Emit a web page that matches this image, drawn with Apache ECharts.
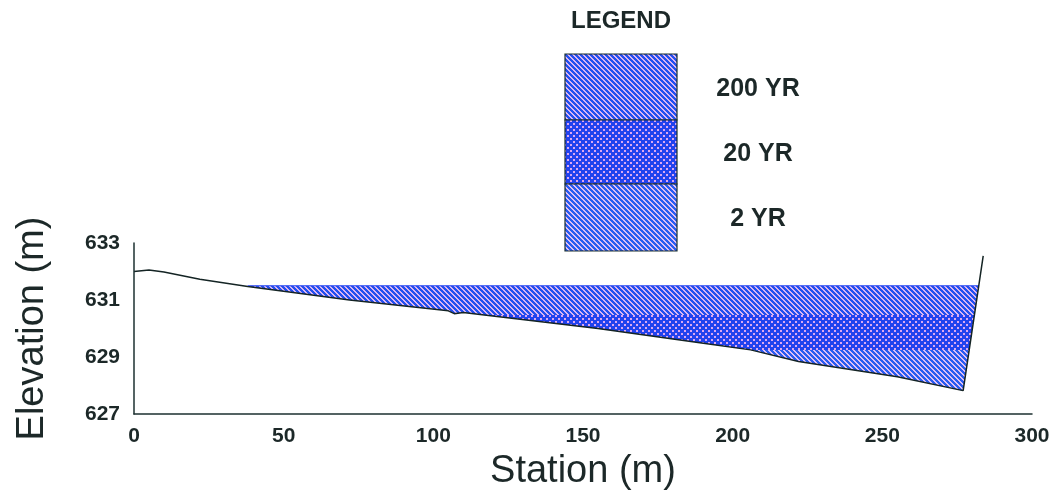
<!DOCTYPE html>
<html>
<head>
<meta charset="utf-8">
<script src="https://cdn.jsdelivr.net/npm/echarts@6/dist/echarts.min.js"></script>
<style>
  html, body { margin: 0; padding: 0; background: #fff; }
  #chart { width: 1058px; height: 499px; }
</style>
</head>
<body>
<div id="chart"></div>
<script>
// ground profile (station m, elevation m)
const groundX = [0, 5, 10, 22, 38, 72, 105, 107, 110, 155, 189, 206, 222, 255, 277, 283.7];
const groundY = [632.0, 632.05, 631.98, 631.73, 631.47, 631.0, 630.62, 630.52, 630.56, 630.0, 629.5, 629.25, 628.84, 628.31, 627.82, 632.55];

// water surfaces: start/end station and level
const legendNames = ["200 YR", "20 YR", "2 YR"];
const waterStart = [38, 108, 206];
const waterEnd = [282.2, 280.8, 279.0];
const waterLevel = [631.5, 630.47, 629.25];

const xTicks = [0, 50, 100, 150, 200, 250, 300];
const yTicks = [627, 629, 631, 633];

// hatch patterns drawn pixel by pixel
function hatch(fg, bg, p, w, mode) {
    const c = document.createElement("canvas");
    c.width = p; c.height = p;
    const ctx = c.getContext("2d");
    ctx.fillStyle = bg;
    ctx.fillRect(0, 0, p, p);
    ctx.fillStyle = fg;
    for (let i = 0; i < p; i++) {
        for (let j = 0; j < p; j++) {
            const d = ((i - j) % p + p) % p;
            let on = d < w;
            if (mode === "dots") {
                // light dots on a diagonal grid, blue everywhere else
                const a = (i % 3 < 2) && (j % 3 < 2) && ((Math.floor(i / 3) + Math.floor(j / 3)) % 2 === 0);
                on = !a;
            }
            if (on) ctx.fillRect(i, j, 1, 1);
        }
    }
    return { image: c, repeat: "repeat" };
}

const patterns = [
    hatch("#2350ef", "#dcb6f2", 5, 3, "diag"),
    hatch("#2242ee", "#dca8f0", 6, 0, "dots"),
    hatch("#2a5cf0", "#e0c0f4", 5, 3, "diag")
];

const font = "Liberation Sans, Arial, sans-serif";
const ink = "#1c2828";

const chart = echarts.init(document.getElementById("chart"));

const waterSeries = legendNames.map((name, k) => ({
    name: name,
    type: "line",
    data: [[waterStart[k], waterLevel[k]], [waterEnd[k], waterLevel[k]]],
    symbol: "none",
    silent: true,
    z: 2 + k,
    lineStyle: { color: "#2a48f0", width: k === 0 ? 1.2 : 0 },
    areaStyle: { color: patterns[k], origin: "start", opacity: 1 }
}));

// legend box built with graphic elements
const legendTop = 54, legendH = [66, 64, 67];
const legendGraphics = [{
    type: "text", left: 571, top: 9,
    style: { text: "LEGEND", font: "bold 24px " + font, fill: ink }
}];
let yy = legendTop;
legendNames.forEach((name, k) => {
    legendGraphics.push({
        type: "rect",
        shape: { x: 565, y: yy, width: 112, height: legendH[k] },
        style: { fill: patterns[k], stroke: "#1c3030", lineWidth: 1.2 }
    });
    legendGraphics.push({
        type: "text",
        x: 758, y: yy + legendH[k] / 2 + 2,
        style: { text: name, font: "bold 25px " + font, fill: ink, align: "center", verticalAlign: "middle" }
    });
    yy += legendH[k];
});

chart.setOption({
    animation: false,
    backgroundColor: "#fff",
    grid: { left: 134, right: 26, top: 243, bottom: 85 },
    xAxis: {
        type: "value",
        min: 0, max: 300, interval: 50,
        z: 10,
        name: "Station (m)",
        nameLocation: "middle",
        nameGap: 39,
        nameTextStyle: { fontFamily: font, fontSize: 38, color: ink },
        axisLine: { show: true, lineStyle: { color: "#1c3030", width: 1.5 } },
        axisTick: { show: false },
        splitLine: { show: false },
        axisLabel: {
            margin: 12, fontFamily: font, fontSize: 21, fontWeight: "bold", color: ink,
            customValues: xTicks
        }
    },
    yAxis: {
        type: "value",
        min: 627, max: 633, interval: 2,
        z: 10,
        name: "Elevation (m)",
        nameLocation: "middle",
        nameGap: 82,
        nameTextStyle: { fontFamily: font, fontSize: 38, color: ink },
        axisLine: { show: true, lineStyle: { color: "#1c3030", width: 1.5 } },
        axisTick: { show: false },
        splitLine: { show: false },
        axisLabel: {
            margin: 14, fontFamily: font, fontSize: 21, fontWeight: "bold", color: ink,
            customValues: yTicks
        }
    },
    graphic: legendGraphics,
    series: waterSeries.concat([{
        name: "Ground",
        type: "line",
        data: groundX.map((x, i) => [x, groundY[i]]),
        symbol: "none",
        silent: true,
        z: 6,
        lineStyle: { color: "#142424", width: 1.5 },
        areaStyle: { color: "#ffffff", origin: "start", opacity: 1 }
    }])
});
</script>
</body>
</html>
